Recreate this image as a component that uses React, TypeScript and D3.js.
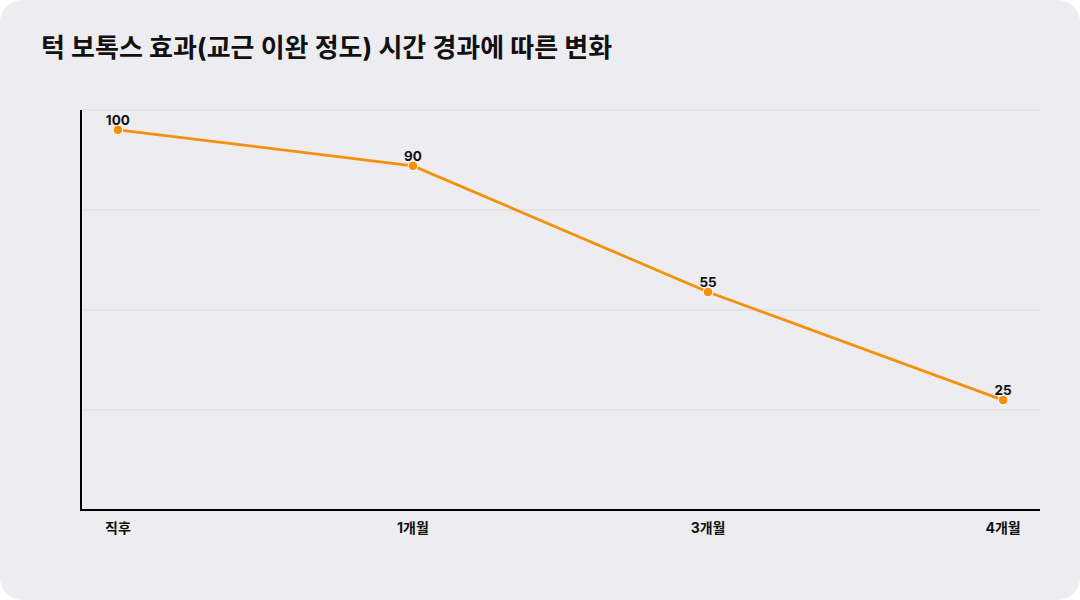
import React, { useEffect, useRef } from "react";
import * as d3 from "d3";

const periods = ["직후", "1개월", "3개월", "4개월"];
const relaxation = [100, 90, 55, 25];
const yDomain: [number, number] = [-5.5, 105.5];
const gridRows = 4;

const TITLE = "턱 보톡스 효과(교근 이완 정도) 시간 경과에 따른 변화";
const FONT = "Inter, 'Noto Sans CJK KR', 'Noto Sans', sans-serif";
const LINE_COLOR = "#f5900c";

const App: React.FC = () => {
  const ref = useRef<SVGSVGElement>(null);

  useEffect(() => {
    if (!ref.current) return;
    const svg = d3.select(ref.current);
    svg.selectAll("*").remove();

    const width = 1080;
    const height = 600;
    const margin = { top: 110, right: 40, bottom: 90, left: 81 };

    svg
      .append("rect")
      .attr("width", width)
      .attr("height", height)
      .attr("rx", 22)
      .attr("fill", "#ededf1");

    svg
      .append("text")
      .attr("x", 41)
      .attr("y", 57)
      .style("font-family", FONT)
      .style("font-size", "26px")
      .style("font-weight", 700)
      .style("fill", "#111")
      .text(TITLE);

    const x = d3
      .scalePoint<string>()
      .domain(periods)
      .range([margin.left, width - margin.right])
      .padding(0.125);

    const y = d3
      .scaleLinear()
      .domain(yDomain)
      .range([height - margin.bottom, margin.top]);

    // horizontal grid: equal rows across the plot
    const span = yDomain[1] - yDomain[0];
    const gridVals = d3.range(gridRows).map((i) => yDomain[1] - (i * span) / gridRows);
    svg
      .append("g")
      .selectAll("line")
      .data(gridVals)
      .enter()
      .append("line")
      .attr("x1", margin.left)
      .attr("x2", width - margin.right)
      .attr("y1", (d) => y(d))
      .attr("y2", (d) => y(d))
      .attr("stroke", "#d9d9de")
      .attr("stroke-width", 1);

    // axes lines
    svg
      .append("line")
      .attr("x1", margin.left)
      .attr("x2", margin.left)
      .attr("y1", margin.top)
      .attr("y2", height - margin.bottom + 1)
      .attr("stroke", "#000")
      .attr("stroke-width", 2);
    svg
      .append("line")
      .attr("x1", margin.left - 1)
      .attr("x2", width - margin.right)
      .attr("y1", height - margin.bottom)
      .attr("y2", height - margin.bottom)
      .attr("stroke", "#000")
      .attr("stroke-width", 2);

    // x tick labels
    svg
      .append("g")
      .selectAll("text")
      .data(periods)
      .enter()
      .append("text")
      .attr("x", (d) => x(d) as number)
      .attr("y", height - margin.bottom + 23)
      .attr("text-anchor", "middle")
      .style("font-family", FONT)
      .style("font-size", "14px")
      .style("font-weight", 700)
      .style("fill", "#111")
      .text((d) => d);

    const pts = periods.map((p, i) => ({ p, v: relaxation[i] }));

    const line = d3
      .line<{ p: string; v: number }>()
      .x((d) => x(d.p) as number)
      .y((d) => y(d.v));

    svg
      .append("path")
      .datum(pts)
      .attr("d", line)
      .attr("fill", "none")
      .attr("stroke", LINE_COLOR)
      .attr("stroke-width", 2.8);

    svg
      .append("g")
      .selectAll("circle")
      .data(pts)
      .enter()
      .append("circle")
      .attr("cx", (d) => x(d.p) as number)
      .attr("cy", (d) => y(d.v))
      .attr("r", 4.8)
      .attr("fill", LINE_COLOR)
      .attr("stroke", "#fff")
      .attr("stroke-width", 1);

    svg
      .append("g")
      .selectAll("text")
      .data(pts)
      .enter()
      .append("text")
      .attr("x", (d) => x(d.p) as number)
      .attr("y", (d) => y(d.v) - 5)
      .attr("text-anchor", "middle")
      .style("font-family", FONT)
      .style("font-size", "13.5px")
      .style("font-weight", 700)
      .style("fill", "#111")
      .text((d) => d.v);
  }, []);

  return (
    <svg
      ref={ref}
      width={1080}
      height={600}
      style={{ display: "block", position: "absolute", left: 0, top: 0, background: "#fff" }}
    />
  );
};

export default App;
